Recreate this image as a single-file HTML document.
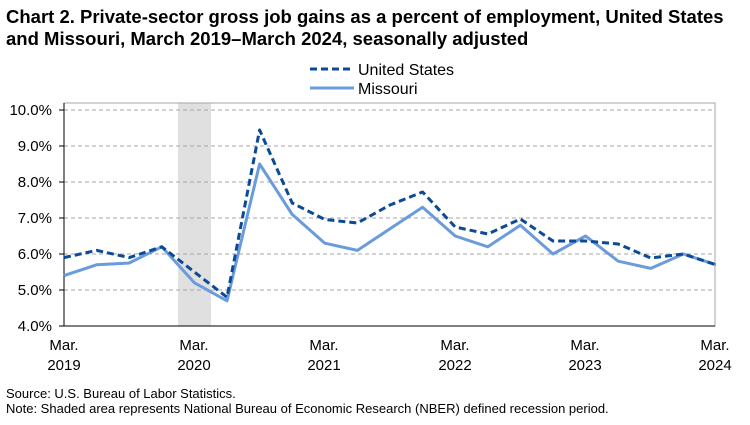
<!DOCTYPE html>
<html><head><style>
body{margin:0;background:#fff;}
svg text{font-family:"Liberation Sans",Arial,sans-serif;}
</style></head><body>
<svg width="750" height="420" xmlns="http://www.w3.org/2000/svg">
<text x="6" y="23" font-size="18.5" font-weight="bold">Chart 2. Private-sector gross job gains as a percent of employment, United States</text>
<text x="6" y="45" font-size="18.5" font-weight="bold">and Missouri, March 2019–March 2024, seasonally adjusted</text>
<line x1="310" y1="69" x2="354" y2="69" stroke="#0b4a96" stroke-width="3" stroke-dasharray="7,4"/>
<text x="358" y="75" font-size="16">United States</text>
<line x1="310" y1="88" x2="354" y2="88" stroke="#6a9bdb" stroke-width="3"/>
<text x="358" y="94" font-size="16">Missouri</text>
<rect x="178" y="103" width="33" height="223" fill="#e0e0e0"/>
<g stroke="#a6a6a6" stroke-dasharray="4,3" stroke-width="1">
<line x1="64" y1="110" x2="715" y2="110"/><line x1="64" y1="146" x2="715" y2="146"/>
<line x1="64" y1="182" x2="715" y2="182"/><line x1="64" y1="218" x2="715" y2="218"/>
<line x1="64" y1="254" x2="715" y2="254"/><line x1="64" y1="290" x2="715" y2="290"/>
</g>
<rect x="64" y="103" width="651" height="223" fill="none" stroke="#a6a6a6"/>
<line x1="64" y1="103" x2="64" y2="326" stroke="#000"/>
<line x1="64" y1="326" x2="715" y2="326" stroke="#000"/>
<g stroke="#000">
<line x1="59" y1="110" x2="64" y2="110"/><line x1="59" y1="146" x2="64" y2="146"/><line x1="59" y1="182" x2="64" y2="182"/><line x1="59" y1="218" x2="64" y2="218"/><line x1="59" y1="254" x2="64" y2="254"/><line x1="59" y1="290" x2="64" y2="290"/><line x1="59" y1="326" x2="64" y2="326"/>
</g>
<g font-size="15" text-anchor="end">
<text x="52" y="115">10.0%</text><text x="52" y="151">9.0%</text><text x="52" y="187">8.0%</text><text x="52" y="223">7.0%</text><text x="52" y="259">6.0%</text><text x="52" y="295">5.0%</text><text x="52" y="331">4.0%</text>
</g>
<g font-size="15" text-anchor="middle">
<text x="64" y="350">Mar.</text><text x="64" y="370">2019</text>
<text x="194" y="350">Mar.</text><text x="194" y="370">2020</text>
<text x="324" y="350">Mar.</text><text x="324" y="370">2021</text>
<text x="455" y="350">Mar.</text><text x="455" y="370">2022</text>
<text x="585" y="350">Mar.</text><text x="585" y="370">2023</text>
<text x="715" y="350">Mar.</text><text x="715" y="370">2024</text>
</g>
<polyline fill="none" stroke="#6a9bdb" stroke-width="3" stroke-linejoin="round" points="64,275.6 96.6,264.8 129.2,263 161.8,246.8 194.4,282.8 227,300.8 259.6,164 292.2,214.4 324.8,243.2 357.4,250.4 390,228.8 422.6,207.2 455.2,236 487.8,246.8 520.4,225.2 553,254 585.6,236 618.2,261.2 650.8,268.4 683.4,254 716,264.8"/>
<polyline fill="none" stroke="#0b4a96" stroke-width="3" stroke-dasharray="7,4" stroke-linejoin="round" points="64,257.6 96.6,250.4 129.2,257.6 161.8,246.8 194.4,272 227,297.2 259.6,130 292.2,203 324.8,219.5 357.4,223 390,205 422.6,192 455.2,227 487.8,234 520.4,219 553,241 585.6,241 618.2,244 650.8,258 683.4,254 716,264.8"/>
<text x="6" y="398" font-size="13">Source: U.S. Bureau of Labor Statistics.</text>
<text x="6" y="413" font-size="13">Note: Shaded area represents National Bureau of Economic Research (NBER) defined recession period.</text>
</svg>
</body></html>
